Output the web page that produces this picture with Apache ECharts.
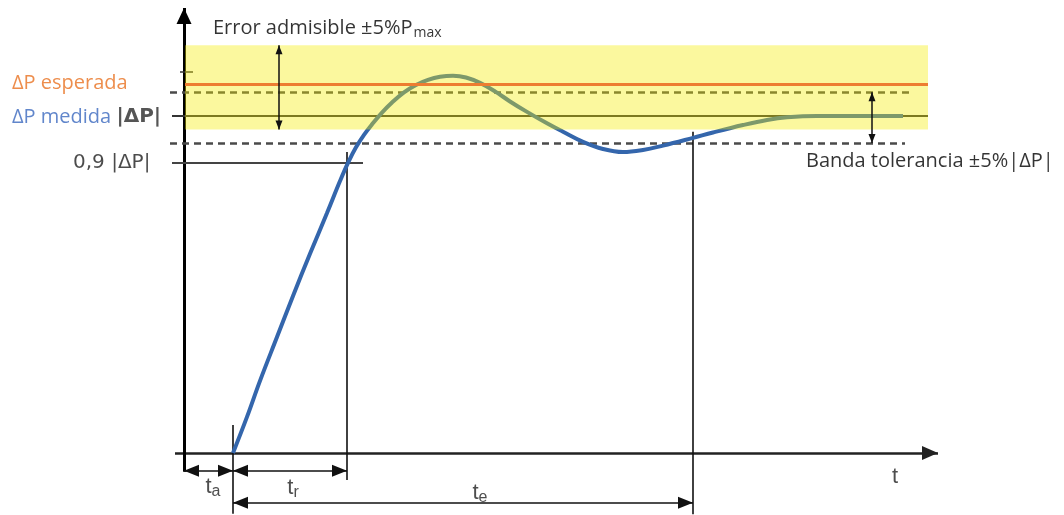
<!DOCTYPE html>
<html><head><meta charset="utf-8">
<script src="https://cdn.jsdelivr.net/npm/echarts@6/dist/echarts.min.js"></script>
<style>html,body{margin:0;padding:0;background:#fff}#c{width:1064px;height:515px}</style>
</head><body><div id="c"></div>
<script>
// ---- data (t in arbitrary time units, P in % of |ΔP|) ----
const curveT = [4.9, 6.3, 7.6, 9.3, 10.9, 12.6, 14.3, 15.6, 16.4, 17.2, 18.0, 18.8, 19.8, 20.8, 22.0, 23.2, 24.4, 25.6, 26.9, 28.2, 29.6, 31.1, 32.6, 34.3, 36.3, 37.9, 39.9, 41.9, 43.9, 45.9, 47.9, 50.9, 52.9, 55.9, 58.3, 60.3, 63.3, 66.6, 71.9];
const curveP = [0, 10.7, 21.4, 34.4, 46.6, 59.1, 71.2, 80.7, 86.1, 90.7, 94.4, 97.5, 101.0, 104.0, 107.0, 109.2, 110.7, 111.6, 111.9, 111.4, 109.8, 107.3, 104.3, 101.2, 97.8, 95.3, 92.3, 90.2, 89.3, 89.9, 91.2, 93.5, 95.1, 97.3, 98.8, 99.6, 100, 100, 100];
const levelNames = ['ΔP esperada', 'ΔP medida ', '|ΔP|', '0,9 |ΔP|'];
const levelValues = [109.5, 100, 86];           // esperada, medida, 0.9|ΔP|
const toleranceBand = [92, 107];                 // banda tolerancia ±5%|ΔP|
const errorBand = [96, 121];                     // error admisible ±5%Pmax
const timeMarks = [4.9, 16.3, 50.9];             // end of t_a, t_r, t_e
const timeNames = ['a', 'r', 'e'];
const annotationTexts = ['Error admisible ±5%P', 'max', 'Banda tolerancia ±5%|ΔP|', 't'];

// ---- chart ----
const chart = echarts.init(document.getElementById('c'), null, {renderer: 'canvas'});
const black = '#111';
function seg(x1, y1, x2, y2, style, s1, s2, size) {
  return [
    {coord: [x1, y1], symbol: s1 || 'none', symbolSize: size || 10, symbolOffset: [0, '50%'], lineStyle: style},
    {coord: [x2, y2], symbol: s2 || 'none', symbolSize: size || 10, symbolOffset: [0, '50%']}
  ];
}
const thin = {color: black, width: 1.6, type: 'solid'};
const dashed = {color: '#4a4a4a', width: 2.5, type: [7, 5]};
const [ta, tr, te] = timeMarks;
const [pEsp, pMed, p09] = levelValues;

const underLines = [
  seg(-0.9, 0, 75.4, 0, {color: '#222', width: 2.5, type: 'solid'}, 'none', 'triangle', [14, 16]),
  seg(0, -5.6, 0, 132.0, {color: '#000', width: 3, type: 'solid'}, 'none', 'triangle', [15, 16]),
  seg(-1.4, toleranceBand[1], 72.9, toleranceBand[1], dashed),
  seg(-1.4, toleranceBand[0], 72.1, toleranceBand[0], dashed),
  seg(-1.2, pMed, 74.4, pMed, {color: '#333', width: 2, type: 'solid'}),
  seg(-1.2, p09, 17.9, p09, {color: '#444', width: 2, type: 'solid'}),
  seg(-0.4, 113, 0.9, 113, {color: '#333', width: 1.5, type: 'solid'}),
  seg(tr, 89.3, tr, -8.0, thin),
  seg(te, 95.3, te, -18.2, thin),
  seg(ta, 8.3, ta, -18.0, thin),
  seg(0, -5.3, ta, -5.3, thin, 'triangle', 'triangle', [12, 15]),
  seg(ta, -5.3, tr, -5.3, thin, 'triangle', 'triangle', [12, 15]),
  seg(ta, -14.8, te, -14.8, thin, 'triangle', 'triangle', [12, 15])
];
const topLines = [
  seg(0.1, pEsp, 74.4, pEsp, {color: '#ED7D31', width: 3, type: 'solid'}),
  seg(9.5, errorBand[0], 9.5, errorBand[1], {color: black, width: 1.5, type: 'solid'}, 'triangle', 'triangle', [7, 9]),
  seg(68.8, toleranceBand[0], 68.8, toleranceBand[1], {color: black, width: 1.5, type: 'solid'}, 'triangle', 'triangle', [7, 9])
];

const calibri = '"Open Sans", "Noto Sans", sans-serif';
const rich = {
  a: {fontFamily: calibri, fontSize: 20, color: '#000'},
  s: {fontFamily: calibri, fontSize: 14, color: '#000', padding: [10, 0, 0, 1]},
  o: {fontFamily: calibri, fontSize: 20, color: '#E8701F'},
  b: {fontFamily: calibri, fontSize: 20, color: '#3A68BE'},
  k: {fontFamily: '"DejaVu Sans"', fontSize: 20, fontWeight: 'bold', color: '#2b2b2b'},
  n: {fontFamily: '"DejaVu Sans"', fontSize: 20, color: '#1e1e1e'},
  t: {fontFamily: '"Liberation Sans", Arial, sans-serif', fontSize: 22, color: '#222'},
  ts: {fontFamily: '"Liberation Sans", Arial, sans-serif', fontSize: 16, color: '#222', padding: [9, 0, 0, 0]}
};
function txt(t, p, formatter, centered) {
  return {value: [t, p], label: {show: true, formatter: formatter, rich: rich,
    position: centered ? 'inside' : 'right', distance: 0, align: centered ? 'center' : 'left', verticalAlign: 'middle'}};
}
const labels = [
  txt(2.9, 126.0, '{a|' + annotationTexts[0] + '}{s|' + annotationTexts[1] + '}'),
  txt(-17.2, 109.8, '{o|' + levelNames[0] + '}'),
  txt(-17.2, 99.7, '{b|' + levelNames[1] + '}{k|' + levelNames[2] + '}'),
  txt(-11.1, 86.1, '{n|' + levelNames[3] + '}'),
  txt(62.2, 86.4, '{a|' + annotationTexts[2] + '}'),
  txt(71.1, -7.2, '{t|' + annotationTexts[3] + '}', true),
  txt(2.9, -10.0, '{t|t}{ts|' + timeNames[0] + '}', true),
  txt(10.9, -10.4, '{t|t}{ts|' + timeNames[1] + '}', true),
  txt(29.6, -12.0, '{t|t}{ts|' + timeNames[2] + '}', true)
];

chart.setOption({
  animation: false,
  backgroundColor: '#fff',
  grid: {left: 0, right: 0, top: 0, bottom: 0},
  xAxis: {type: 'value', min: -18.4, max: 88.0, show: false},
  yAxis: {type: 'value', min: -18.4, max: 134.4, show: false},
  series: [
    {type: 'line', z: 2, data: curveT.map((t, i) => [t, curveP[i]]), smooth: 0.4, showSymbol: false,
      lineStyle: {color: '#3466AC', width: 4}, silent: true},
    {type: 'line', data: [], silent: true,
      markLine: {z: 1, silent: true, label: {show: false}, lineStyle: {type: 'solid'}, emphasis: {disabled: true}, data: underLines}},
    {type: 'line', data: [], silent: true,
      markArea: {z: 3, silent: true, itemStyle: {color: 'rgba(244,236,0,0.38)'}, emphasis: {disabled: true},
        data: [[{coord: [0.1, errorBand[1]]}, {coord: [74.4, errorBand[0]]}]]}},
    {type: 'line', data: [], silent: true,
      markLine: {z: 4, silent: true, label: {show: false}, lineStyle: {type: 'solid'}, emphasis: {disabled: true}, data: topLines}},
    {type: 'scatter', z: 6, symbolSize: 0, silent: true, data: labels}
  ]
});
</script></body></html>
